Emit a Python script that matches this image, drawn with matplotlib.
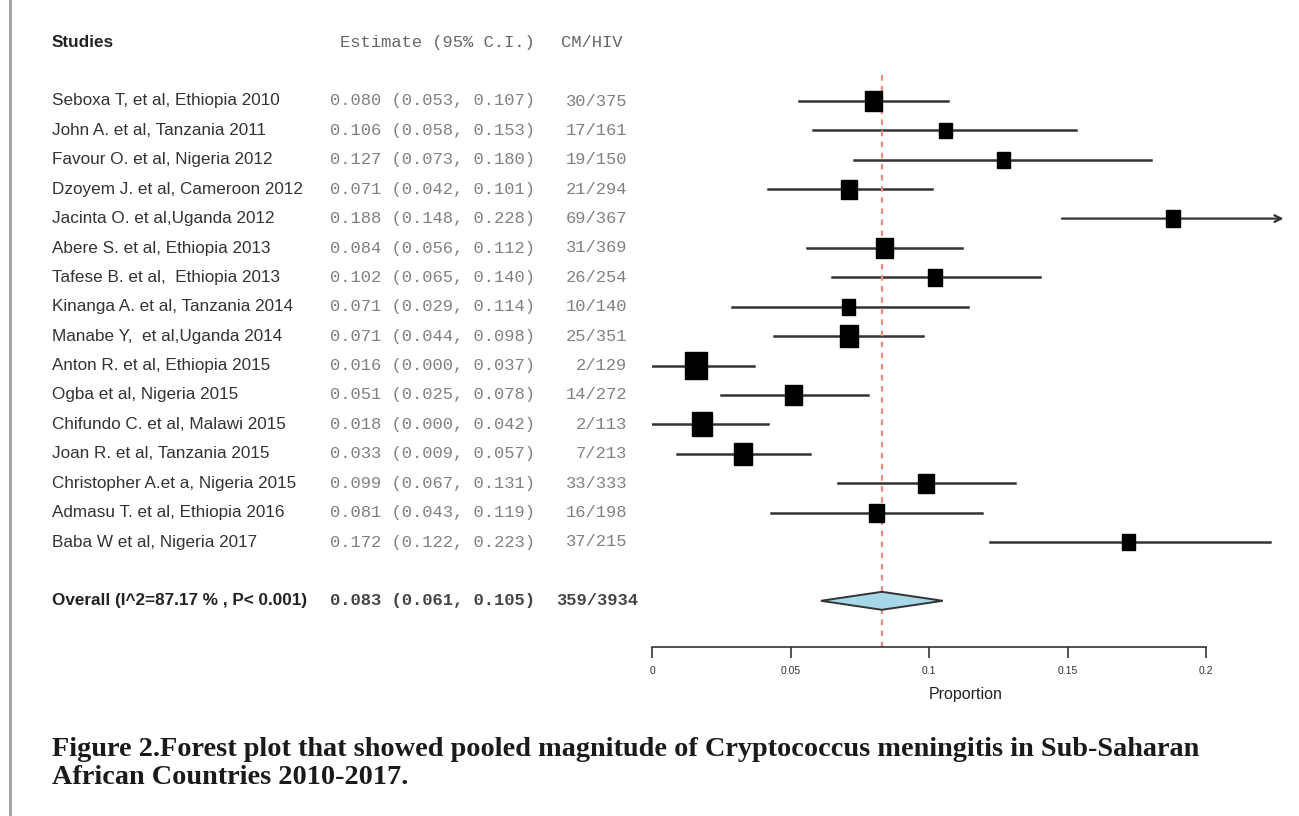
import numpy as np
import matplotlib
matplotlib.use("Agg")
import matplotlib.pyplot as plt
from matplotlib.patches import Rectangle, Polygon
from matplotlib.transforms import blended_transform_factory

# --- data ---
studies = [
    "Seboxa T, et al, Ethiopia 2010",
    "John A. et al, Tanzania 2011",
    "Favour O. et al, Nigeria 2012",
    "Dzoyem J. et al, Cameroon 2012",
    "Jacinta O. et al,Uganda 2012",
    "Abere S. et al, Ethiopia 2013",
    "Tafese B. et al,  Ethiopia 2013",
    "Kinanga A. et al, Tanzania 2014",
    "Manabe Y,  et al,Uganda 2014",
    "Anton R. et al, Ethiopia 2015",
    "Ogba et al, Nigeria 2015",
    "Chifundo C. et al, Malawi 2015",
    "Joan R. et al, Tanzania 2015",
    "Christopher A.et a, Nigeria 2015",
    "Admasu T. et al, Ethiopia 2016",
    "Baba W et al, Nigeria 2017",
]
est = np.array([0.080, 0.106, 0.127, 0.071, 0.188, 0.084, 0.102, 0.071,
                0.071, 0.016, 0.051, 0.018, 0.033, 0.099, 0.081, 0.172])
lower = np.array([0.053, 0.058, 0.073, 0.042, 0.148, 0.056, 0.065, 0.029,
                  0.044, 0.000, 0.025, 0.000, 0.009, 0.067, 0.043, 0.122])
upper = np.array([0.107, 0.153, 0.180, 0.101, 0.228, 0.112, 0.140, 0.114,
                  0.098, 0.037, 0.078, 0.042, 0.057, 0.131, 0.119, 0.223])
cases = ["30/375", "17/161", "19/150", "21/294", "69/367", "31/369", "26/254", "10/140",
         "25/351", "2/129", "14/272", "2/113", "7/213", "33/333", "16/198", "37/215"]
# relative study weights (box size)
weights = np.array([17, 13, 13, 16, 14, 17, 14, 13, 18, 22, 17, 20, 18, 16, 15, 13])

overall_label = "Overall (I^2=87.17 % , P< 0.001)"
overall_est, overall_lo, overall_hi = 0.083, 0.061, 0.105
overall_cases = "359/3934"

xticks = [0, 0.05, 0.1, 0.15, 0.2]
xticklabels = ["0", "0.05", "0.1", "0.15", "0.2"]
clip_hi = 0.225   # CIs beyond this get an arrow

caption = ["Figure 2.Forest plot that showed pooled magnitude of Cryptococcus meningitis in Sub-Saharan",
           "African Countries 2010-2017."]

# --- layout ---
W, H = 1299, 816
fig = plt.figure(figsize=(W / 100, H / 100), dpi=100)
px_per_unit = 2770.0   # x pixels per proportion unit
row_px = 29.4          # pixels per row
x0_px, top_row_px = 652, 101
ax_top, ax_bot, ax_right = 30, 647, 1290

ax = fig.add_axes([x0_px / W, 1 - ax_bot / H, (ax_right - x0_px) / W, (ax_bot - ax_top) / H])
ax.set_xlim(0, (ax_right - x0_px) / px_per_unit)
ax.set_ylim((ax_bot - top_row_px) / row_px, (ax_top - top_row_px) / row_px)

rows = np.arange(len(studies))
overall_row = len(studies) + 1
header_row = -2

# reference line at pooled estimate
ax.vlines(overall_est, (75 - top_row_px) / row_px, ax.get_ylim()[0],
          colors="#ec8a84", linestyles=(0, (2.5, 2.5)), lw=1.6, zorder=2)

for r, e, lo, hi, w in zip(rows, est, lower, upper, weights):
    if hi > clip_hi:
        ax.annotate("", xy=(hi, r), xytext=(lo, r),
                    arrowprops=dict(arrowstyle="->", color="#333333", lw=1.6,
                                    mutation_scale=12, shrinkA=0, shrinkB=0), zorder=1)
    else:
        ax.plot([lo, hi], [r, r], color="#333333", lw=1.8, zorder=1)
    bw = w / px_per_unit
    bh = 1.2 * w / row_px
    ax.add_patch(Rectangle((e - bw / 2, r - bh / 2), bw, bh, color="black", zorder=3))

dh = 9 / row_px
ax.add_patch(Polygon([(overall_lo, overall_row), (overall_est, overall_row - dh),
                      (overall_hi, overall_row), (overall_est, overall_row + dh)],
                     closed=True, facecolor="#a6d8ea", edgecolor="#333333", lw=1.4, zorder=3))

for s in ["top", "right", "left"]:
    ax.spines[s].set_visible(False)
ax.spines["bottom"].set_bounds(0, 0.2)
ax.spines["bottom"].set_color("#333333")
ax.spines["bottom"].set_linewidth(1.2)
ax.set_yticks([])
ax.set_xticks(xticks)
ax.set_xticklabels(xticklabels, fontsize=7.5, family="Liberation Sans", color="#333333")
ax.tick_params(axis="x", direction="out", length=8, width=1.2, color="#333333", pad=6)
ax.set_xlabel("Proportion", fontsize=11.5, family="Liberation Sans", color="#222222", labelpad=2)
ax.xaxis.set_label_coords((966 - x0_px) / (ax_right - x0_px), -0.065)

# --- text columns ---
tr = blended_transform_factory(fig.transFigure, ax.transData)
sans = "Liberation Sans"
mono = "Liberation Mono"
fs = 12.3
name_x, est_r, cnt_r = 52 / W, 535 / W, 627 / W

ax.text(name_x, header_row, "Studies", transform=tr, ha="left", va="center",
        fontsize=fs, fontweight="bold", family=sans, color="#222222")
ax.text(est_r, header_row, "Estimate (95% C.I.)", transform=tr, ha="right", va="center",
        fontsize=fs, family=mono, color="#666666")
ax.text(561 / W, header_row, "CM/HIV", transform=tr, ha="left", va="center",
        fontsize=fs, family=mono, color="#666666")

for r, name, e, lo, hi, c in zip(rows, studies, est, lower, upper, cases):
    ax.text(name_x, r, name, transform=tr, ha="left", va="center",
            fontsize=fs, family=sans, color="#333333")
    ax.text(est_r, r, f"{e:.3f} ({lo:.3f}, {hi:.3f})", transform=tr, ha="right", va="center",
            fontsize=fs, family=mono, color="#808080")
    ax.text(cnt_r, r, c, transform=tr, ha="right", va="center",
            fontsize=fs, family=mono, color="#808080")

ax.text(name_x, overall_row, overall_label, transform=tr, ha="left", va="center",
        fontsize=fs, fontweight="bold", family=sans, color="#222222")
ax.text(est_r, overall_row, f"{overall_est:.3f} ({overall_lo:.3f}, {overall_hi:.3f})",
        transform=tr, ha="right", va="center", fontsize=fs, fontweight="bold",
        family=mono, color="#444444")
ax.text(638 / W, overall_row, overall_cases, transform=tr, ha="right", va="center",
        fontsize=fs, fontweight="bold", family=mono, color="#444444")

# page border line at left and caption
fig.add_artist(plt.Line2D([10 / W, 10 / W], [0, 1], transform=fig.transFigure,
                          color="#a0a0a0", lw=2))
for i, line in enumerate(caption):
    fig.text(52 / W, 1 - (746 + 28 * i) / H, line, ha="left", va="center_baseline",
             fontsize=20.3, fontweight="bold", family="Liberation Serif", color="#1a1a1a")

fig.savefig("out.png", dpi=100)
